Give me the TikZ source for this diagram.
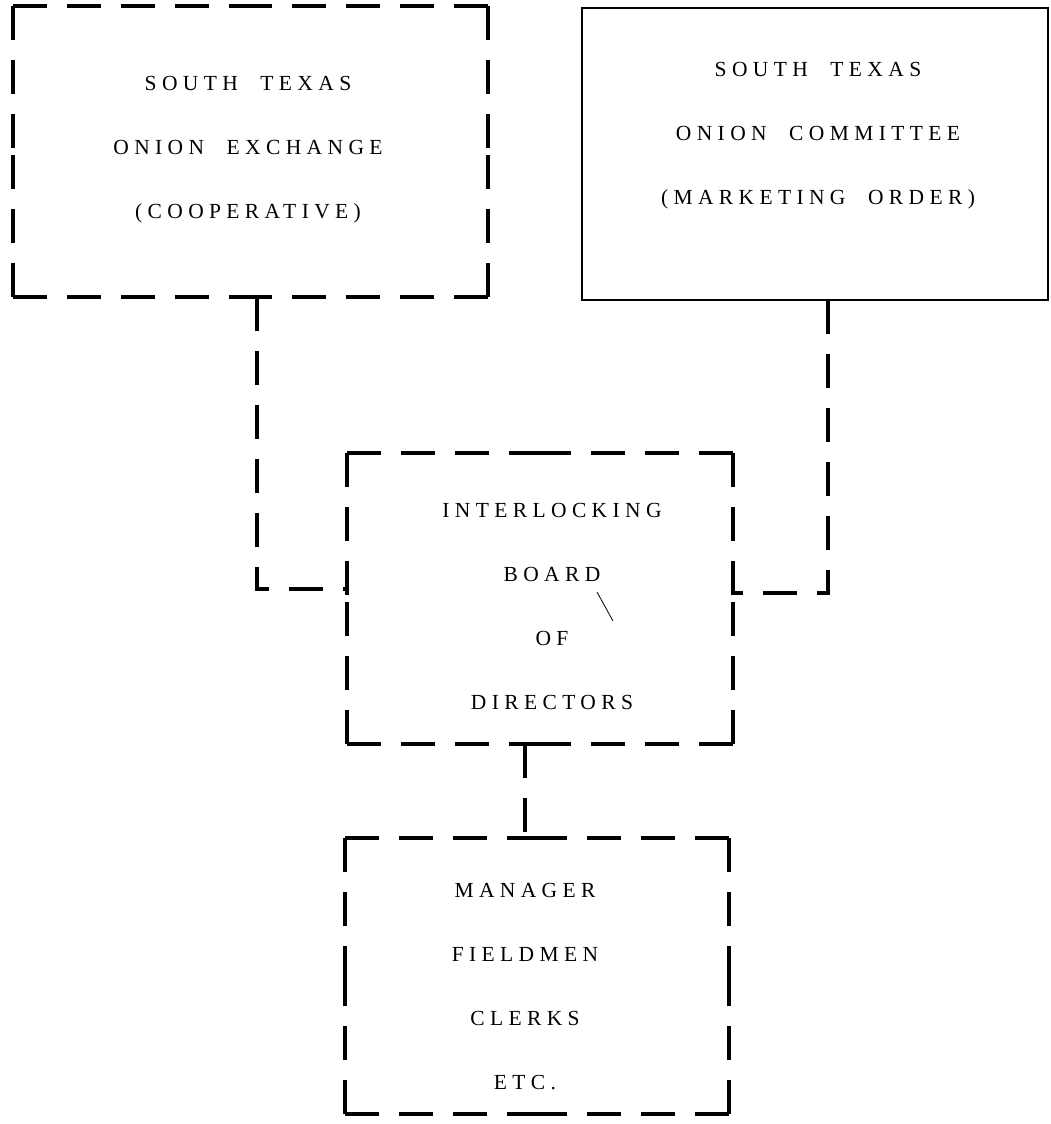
\documentclass[tikz,border=0pt]{standalone}
\usepackage{fontspec}
\newfontfamily\typfont[LetterSpace=25,WordSpace=2.1]{Liberation Serif}
\newcommand\sideboxes[1]{%
  \draw[dline] (#1.north west) -- (#1.north);
  \draw[dline] (#1.north east) -- (#1.north);
  \draw[dline] (#1.north east) -- (#1.east);
  \draw[dline] (#1.south east) -- (#1.east);
  \draw[dline] (#1.south east) -- (#1.south);
  \draw[dline] (#1.south west) -- (#1.south);
  \draw[dline] (#1.south west) -- (#1.west);
  \draw[dline] (#1.north west) -- (#1.west);
}
\begin{document}
\begin{tikzpicture}[x=1pt,y=-1pt,
  dline/.style={line width=3.1pt, dash pattern=on 34pt off 20pt, line cap=butt},
  sline/.style={line width=2.8pt},
  frame/.style={rectangle, inner sep=0pt, outer sep=0pt},
  lbl/.style={font={\typfont\fontsize{21.5}{64}\selectfont}, align=center, inner sep=0pt}
]
\useasboundingbox (0,0) rectangle (1050,1124);
\fill[white] (0,0) rectangle (1050,1124);

% boxes
\node[frame, minimum width=475pt, minimum height=291pt] (ex) at (250.5,151.5) {};
\node[frame, minimum width=466pt, minimum height=292pt, draw, sline] (cm) at (815,154) {};
\node[frame, minimum width=386pt, minimum height=291pt] (ib) at (540,598.5) {};
\node[frame, minimum width=384pt, minimum height=276pt] (st) at (537,976) {};
\sideboxes{ex}
\sideboxes{ib}
\sideboxes{st}

% texts
\node[lbl] (exT) at (248,150) {SOUTH TEXAS\\ONION EXCHANGE\\(COOPERATIVE)};
\node[lbl] (cmT) at (818,136) {SOUTH TEXAS\\ONION COMMITTEE\\(MARKETING ORDER)};
\node[lbl] (ibT) at (552,606) {INTERLOCKING\\BOARD\\OF\\DIRECTORS};
\node[lbl] (stT) at (525,987) {MANAGER\\FIELDMEN\\CLERKS\\ETC.};

% connectors
\coordinate (j1) at (257,589);
\coordinate (j2) at (828,593);
\draw[dline] (ex.south -| j1) -- (j1) -- (ib.west |- j1);
\draw[dline] (cm.south -| j2) -- (j2) -- (ib.east |- j2);
\draw[dline] ([xshift=-15pt]ib.south) -- ([xshift=-12pt]st.north);

% stray mark
\draw[line width=0.8pt] (597,592) -- (613,621);
\end{tikzpicture}
\end{document}
